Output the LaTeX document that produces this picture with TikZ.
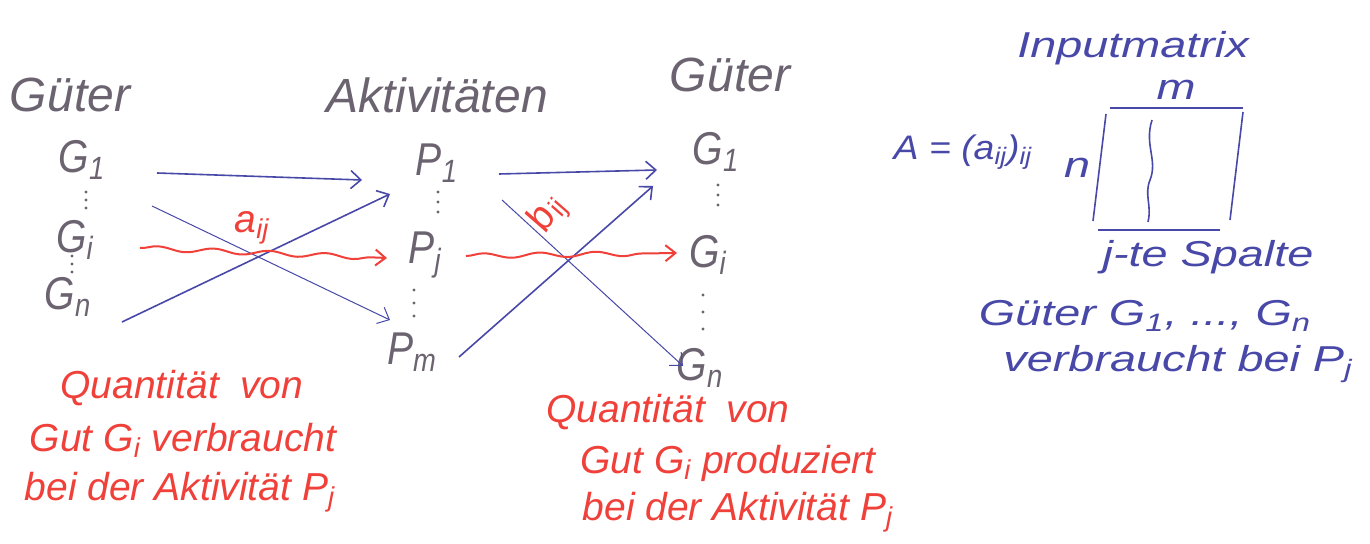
\documentclass[tikz,border=0pt]{standalone}
\usepackage{fontspec}
\setmainfont{Liberation Sans}
\newfontfamily\handnarrow{Liberation Sans}[FakeStretch=0.85]
\newfontfamily\handwide{Liberation Sans}[FakeStretch=1.1]
\newfontfamily\handwider{Liberation Sans}[FakeStretch=1.3]
\usetikzlibrary{arrows.meta,decorations.pathmorphing}
\definecolor{inkgrey}{HTML}{6B6370}
\definecolor{inkblue}{HTML}{4848A8}
\definecolor{inkred}{HTML}{F0403A}
\begin{document}
\begin{tikzpicture}[x=0.5pt,y=-0.5pt,
  greytxt/.style={text=inkgrey,font=\fontsize{24}{28}\selectfont\itshape,inner sep=0pt},
  vartxt/.style={text=inkgrey,font=\handnarrow\fontsize{23}{26}\selectfont\itshape,inner sep=0pt},
  redtxt/.style={text=inkred,font=\fontsize{19.5}{24}\selectfont\itshape,inner sep=0pt},
  bluetxt/.style={text=inkblue,font=\handwider\fontsize{18}{22}\selectfont\itshape,inner sep=0pt},
  bluesmall/.style={text=inkblue,font=\handwide\fontsize{17}{20}\selectfont\itshape,inner sep=0pt},
  blarrow/.style={draw=inkblue,line width=0.8pt,-{Straight Barb[length=5pt,width=9pt]}},
  thinarrow/.style={draw=inkblue,line width=0.5pt,-{Straight Barb[length=5pt,width=9pt]}},
  redarrow/.style={draw=inkred,line width=1pt,-{Straight Barb[length=5pt,width=8pt]},
    decorate,decoration={snake,amplitude=1.2pt,segment length=28pt,post length=6pt}},
  dotc/.style={fill=inkgrey,draw=none},
  boxline/.style={draw=inkblue,line width=0.8pt}
]
\fill[white] (0,0) rectangle (1370,544);
\useasboundingbox (0,0) rectangle (1370,544);

% headings
\node[greytxt] (hg1) at (70,95) {Güter};
\node[greytxt] (hak) at (437,95) {Aktivitäten};
\node[greytxt] (hg2) at (730,75) {Güter};

% left column
\node[vartxt] (lg1) at (82,160) {G\textsubscript{1}};
\node[vartxt] (lgi) at (75,240) {G\textsubscript{i}};
\node[vartxt] (lgn) at (68,297) {G\textsubscript{n}};
\foreach \y in {192,200,208} \fill[dotc] (86,\y) circle (1.6);
\foreach \y in {256,264,272} \fill[dotc] (72,\y) circle (1.6);

% middle column
\node[vartxt] (p1) at (437,163) {P\textsubscript{1}};
\node[vartxt] (pj) at (425,255) {P\textsubscript{j}};
\node[vartxt] (pm) at (412,352) {P\textsubscript{m}};
\foreach \y in {192,202,212} \fill[dotc] (438,\y) circle (1.6);
\foreach \y in {290,303,316} \fill[dotc] (414,\y) circle (1.6);

% right column
\node[vartxt] (rg1) at (716,152) {G\textsubscript{1}};
\node[vartxt] (rgi) at (708,255) {G\textsubscript{i}};
\node[vartxt] (rgn) at (700,368) {G\textsubscript{n}};
\foreach \y in {185,195,205} \fill[dotc] (718,\y) circle (1.6);
\foreach \y in {295,312,329} \fill[dotc] (703,\y) circle (1.6);

% arrow endpoints
\coordinate (a1s) at (157,173); \coordinate (a1e) at (362,180);
\coordinate (a2s) at (152,206); \coordinate (a2e) at (390,320);
\coordinate (a3s) at (122,322); \coordinate (a3e) at (390,194);
\coordinate (r1s) at (140,248); \coordinate (r1e) at (387,258);
\coordinate (b1s) at (499,174); \coordinate (b1e) at (657,170);
\coordinate (b2s) at (502,200); \coordinate (b2e) at (683,366);
\coordinate (b3s) at (459,357); \coordinate (b3e) at (653,186);
\coordinate (r2s) at (466,256); \coordinate (r2e) at (677,253);

\draw[blarrow] (a1s) -- (a1e);
\draw[thinarrow] (a2s) -- (a2e);
\draw[blarrow] (a3s) -- (a3e);
\draw[redarrow] (r1s) -- (r1e);
\draw[blarrow] (b1s) -- (b1e);
\draw[thinarrow] (b2s) -- (b2e);
\draw[blarrow] (b3s) -- (b3e);
\draw[redarrow] (r2s) -- (r2e);

\node[redtxt] (aij) at (252,228) {a\textsubscript{ij}};
\node[redtxt,rotate=60] (bij) at (548,214) {b\textsubscript{ij}};

% red explanations
\node[redtxt] (q1a) at (182,388) {Quantität\ \ von};
\node[redtxt] (q1b) at (183,440) {Gut G\textsubscript{i} verbraucht};
\node[redtxt] (q1c) at (180,492) {bei der Aktivität P\textsubscript{j}};
\node[redtxt] (q2a) at (668,412) {Quantität\ \ von};
\node[redtxt] (q2b) at (728,463) {Gut G\textsubscript{i} produziert};
\node[redtxt] (q2c) at (738,512) {bei der Aktivität P\textsubscript{j}};

% input matrix
\node[bluetxt] (imx) at (1133,48) {Inputmatrix};
\node[bluetxt] (mm) at (1176,90) {m};
\node[bluetxt] (nn) at (1077,168) {n};
\node[bluesmall] (aeq) at (963,152) {A = (a\textsubscript{ij})\textsubscript{ij}};
\draw[boxline] (1110,108) -- (1243,108);
\draw[boxline] (1106,114) -- (1093,221);
\draw[boxline] (1243,112) -- (1230,220);
\draw[boxline] (1098,230) -- (1220,230);
\draw[boxline] (1152,120) .. controls (1144,145) and (1158,160) .. (1150,180) .. controls (1144,195) and (1152,205) .. (1148,222);
\node[bluetxt] (jsp) at (1208,257) {j-te Spalte};
\node[bluetxt] (gut) at (1145,316) {Güter G\textsubscript{1}, ..., G\textsubscript{n}};
\node[bluetxt] (vbr) at (1178,364) {verbraucht bei P\textsubscript{j}};
\end{tikzpicture}
\end{document}
